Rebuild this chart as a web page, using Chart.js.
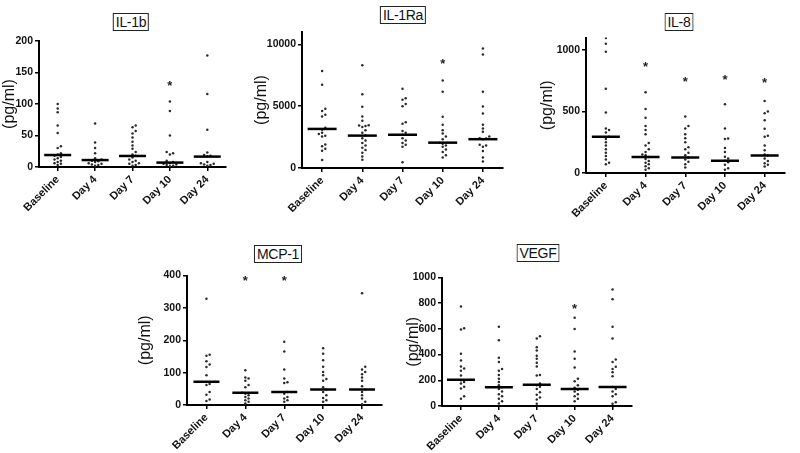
<!DOCTYPE html>
<html>
<head>
<meta charset="utf-8">
<script src="https://cdn.jsdelivr.net/npm/chart.js@4.4.1/dist/chart.umd.min.js"></script>
<style>
  html, body { margin: 0; padding: 0; background: #fff; }
  #wrap { position: relative; width: 800px; height: 453px; overflow: hidden; background: #fff; }
  canvas { position: absolute; }
  .ttl { position: absolute; transform: translate(-50%, -50%); border: 1px solid #222; background: #fff;
         font-family: "Liberation Sans", Arial, sans-serif; font-size: 14px; line-height: 16px;
         padding: 0 2px; color: #111; white-space: nowrap; letter-spacing: -0.3px; }
</style>
</head>
<body>
<div id="wrap"></div>
<script>
// ---------- categories ----------
const categories = ['Baseline', 'Day 4', 'Day 7', 'Day 10', 'Day 24'];

// ---------- IL-1b (pg/ml) ----------
const il1b_baseline = [100, 93, 87, 66, 54, 33, 30, 22, 20, 18, 16, 14, 12, 10, 8, 6, 5, 3];
const il1b_day4     = [69, 39, 30, 22, 14, 12, 10, 9, 8, 6, 5, 4, 3, 2];
const il1b_day7     = [66, 63, 57, 53, 47, 40, 34, 29, 24, 20, 18, 15, 12, 10, 8, 6, 5, 3, 2];
const il1b_day10    = [104, 89, 50, 24, 22, 20, 10, 8, 6, 5, 4, 3, 2, 1];
const il1b_day24    = [177, 116, 59, 23, 19, 18, 17, 8, 6, 5, 4, 3, 2];
const il1b_medians  = [19, 11, 17.5, 7, 16.5];
const il1b_stars    = [null, null, null, 135, null];
const il1b_ticks    = [0, 50, 100, 150, 200];

// ---------- IL-1Ra (pg/ml) ----------
const il1ra_baseline = [7850, 6730, 4790, 4610, 4300, 4170, 3250, 3100, 2850, 2750, 2600, 2550, 1900, 1750, 1550, 1400, 650];
const il1ra_day4     = [8310, 5960, 4950, 4170, 3830, 3450, 3430, 3400, 3320, 3060, 2850, 2620, 2410, 2230, 2020, 1810, 1630, 1450, 1240, 930, 670];
const il1ra_day7     = [6420, 5650, 5520, 5180, 5000, 3700, 3570, 3000, 2850, 2690, 2410, 2230, 2020, 1890, 1710, 470];
const il1ra_day10    = [7070, 6160, 4140, 3500, 3060, 2800, 2540, 2330, 2050, 1970, 1810, 1710, 1500, 1300, 1040, 850];
const il1ra_day24    = [9660, 9190, 6160, 4970, 4400, 3500, 3190, 2930, 2540, 2400, 2380, 2330, 1890, 1810, 1710, 1370, 850, 520];
const il1ra_medians  = [3160, 2620, 2690, 2050, 2330];
const il1ra_stars    = [null, null, null, 8700, null];
const il1ra_ticks    = [0, 5000, 10000];

// ---------- IL-8 (pg/ml) ----------
const il8_baseline = [1095, 1050, 985, 683, 491, 362, 349, 328, 294, 276, 249, 223, 192, 165, 139, 110, 84, 71];
const il8_day4     = [656, 520, 449, 381, 349, 315, 244, 223, 192, 171, 150, 144, 129, 113, 97, 84, 71, 55, 39, 26];
const il8_day7     = [459, 381, 362, 315, 283, 249, 210, 192, 165, 144, 126, 110, 92, 71, 45];
const il8_day10    = [559, 362, 281, 276, 202, 171, 131, 118, 100, 87, 66, 39, 26];
const il8_day24    = [585, 499, 486, 428, 360, 302, 294, 223, 184, 150, 142, 118, 97, 79, 66, 52];
const il8_medians  = [294, 129, 126, 100, 142];
const il8_stars    = [null, 892, 774, 785, 761];
const il8_ticks    = [0, 500, 1000];

// ---------- MCP-1 (pg/ml) ----------
const mcp1_baseline = [328, 155, 152, 135, 125, 117, 92, 65, 62, 40, 32, 17, 12];
const mcp1_day4     = [107, 85, 82, 75, 62, 55, 38, 35, 30, 25, 20, 15, 10, 5];
const mcp1_day7     = [195, 165, 110, 82, 70, 68, 40, 35, 25, 20, 15, 10];
const mcp1_day10    = [175, 158, 138, 118, 102, 92, 80, 75, 55, 48, 40, 30, 22, 15, 10];
const mcp1_day24    = [345, 118, 110, 102, 95, 85, 75, 58, 48, 40, 30, 20, 10, 2];
const mcp1_medians  = [72, 38, 40, 48, 48];
const mcp1_stars    = [null, 396, 396, null, null];
const mcp1_ticks    = [0, 100, 200, 300, 400];

// ---------- VEGF (pg/ml) ----------
const vegf_baseline = [775, 605, 595, 407, 355, 307, 292, 275, 237, 200, 187, 175, 150, 137, 75, 57];
const vegf_day4     = [617, 512, 375, 342, 287, 275, 242, 212, 187, 162, 145, 132, 112, 92, 75, 57, 37, 20];
const vegf_day7     = [542, 525, 457, 432, 392, 367, 337, 307, 242, 237, 175, 162, 150, 132, 107, 87, 67, 50, 17];
const vegf_day10    = [687, 600, 425, 367, 300, 212, 192, 162, 142, 127, 112, 92, 75, 57, 37];
const vegf_day24    = [907, 830, 617, 525, 362, 342, 305, 287, 262, 232, 147, 132, 112, 92, 75, 30, 17];
const vegf_medians  = [205, 145, 165, 132, 147];
const vegf_stars    = [null, null, null, 787, null];
const vegf_ticks    = [0, 200, 400, 600, 800, 1000];

const yTitle = '(pg/ml)';
const FONT = '"Liberation Sans", Arial, Helvetica, sans-serif';

// star (asterisk) text plugin
const starPlugin = {
  id: 'stars',
  afterDatasetsDraw(chart, args, opts) {
    const stars = opts.values || [];
    const ctx = chart.ctx;
    ctx.save();
    ctx.fillStyle = '#222';
    ctx.font = 'bold 13px ' + FONT;
    ctx.textAlign = 'center';
    ctx.textBaseline = 'alphabetic';
    stars.forEach((v, i) => {
      if (v == null) return;
      const x = chart.scales.x.getPixelForValue(i);
      const y = chart.scales.y.getPixelForValue(v);
      ctx.fillText('*', x, y + 8);
    });
    ctx.restore();
  }
};

function makePanel(p) {
  const wrap = document.getElementById('wrap');
  const padTop = 12, padRight = 4, xh = 62;
  const plotW = p.right - p.left, plotH = p.bottom - p.top;
  const cv = document.createElement('canvas');
  const W = p.yw + plotW + padRight, H = padTop + plotH + xh;
  cv.width = W; cv.height = H;
  cv.style.left = (p.left - p.yw) + 'px';
  cv.style.top = (p.top - padTop) + 'px';
  cv.style.width = W + 'px'; cv.style.height = H + 'px';
  wrap.appendChild(cv);

  const t = document.createElement('div');
  t.className = 'ttl';
  t.textContent = p.title;
  t.style.left = p.tx + 'px';
  t.style.top = p.ty + 'px';
  wrap.appendChild(t);

  const groups = p.groups;
  const initPts = [];
  groups.forEach((vals, i) => vals.forEach(v => initPts.push({ x: i, y: v })));

  const chart = new Chart(cv, {
    type: 'scatter',
    data: {
      datasets: [
        { data: initPts, pointRadius: 1.25, pointHoverRadius: 1.25, pointBackgroundColor: '#2a2a2a',
          pointBorderWidth: 0, order: 2 },
        { data: p.medians.map((m, i) => ({ x: i, y: m })), pointStyle: 'line', pointRadius: p.mr,
          pointHoverRadius: p.mr, pointBorderColor: '#000', pointBorderWidth: 2.5, order: 1 }
      ]
    },
    options: {
      responsive: false, animation: false,
      events: [],
      layout: { padding: { left: 0, top: padTop, right: padRight, bottom: 0 } },
      plugins: { legend: { display: false }, tooltip: { enabled: false }, stars: { values: p.stars } },
      scales: {
        x: {
          type: 'linear', min: -0.5, max: 4.5,
          afterBuildTicks: s => { s.ticks = categories.map((c, i) => ({ value: i })); },
          afterFit: s => { s.height = xh; },
          ticks: { callback: v => categories[v], minRotation: 45, maxRotation: 45, autoSkip: false,
                   font: { family: FONT, size: 11, weight: 'bold' }, color: '#111', padding: 2 },
          grid: { drawOnChartArea: false, drawTicks: true, tickLength: 4, color: '#000', lineWidth: 1.5 },
          border: { color: '#000', width: 2 }
        },
        y: {
          type: 'linear', min: 0, max: p.ymax,
          afterBuildTicks: s => { s.ticks = p.ticks.map(v => ({ value: v })); },
          afterFit: s => { s.width = p.yw; },
          ticks: { callback: v => String(v), font: { family: FONT, size: 10.5, weight: 'bold' }, color: '#111', padding: 2 },
          grid: { drawOnChartArea: false, drawTicks: true, tickLength: 4, color: '#000', lineWidth: 1.5 },
          border: { color: '#000', width: 2 },
          title: { display: true, text: yTitle, font: { family: FONT, size: 16 }, color: '#111',
                   padding: { top: 0, bottom: 0 } }
        }
      }
    },
    plugins: [starPlugin]
  });

  // spread dots with near-equal values sideways (beeswarm style), using the chart's own scales
  const xs = chart.scales.x, ys = chart.scales.y;
  const pxPerX = xs.getPixelForValue(1) - xs.getPixelForValue(0);
  const STEP = 3.2, MIN = 3;
  const pts = [];
  groups.forEach((vals, i) => {
    const placed = [];
    vals.slice().sort((a, b) => a - b).forEach(v => {
      const py = ys.getPixelForValue(v);
      let off = 0;
      for (let k = 0; k < 30; k++) {
        const cand = k === 0 ? 0 : (k % 2 ? 1 : -1) * Math.ceil(k / 2) * STEP;
        if (!placed.some(q => Math.abs(q.py - py) < MIN && Math.abs(q.off - cand) < MIN)) { off = cand; break; }
      }
      placed.push({ py, off });
      pts.push({ x: i + off / pxPerX, y: v });
    });
  });
  chart.data.datasets[0].data = pts;
  chart.update('none');
}

makePanel({ title: 'IL-1b', tx: 131, ty: 22, left: 39, right: 238, top: 37, bottom: 167, yw: 39, ymax: 200,
  ticks: il1b_ticks, mr: 13.5, medians: il1b_medians, stars: il1b_stars,
  groups: [il1b_baseline, il1b_day4, il1b_day7, il1b_day10, il1b_day24] });

makePanel({ title: 'IL-1Ra', tx: 403, ty: 15, left: 302, right: 516, top: 27, bottom: 168, yw: 50, ymax: 11000,
  ticks: il1ra_ticks, mr: 14.5, medians: il1ra_medians, stars: il1ra_stars,
  groups: [il1ra_baseline, il1ra_day4, il1ra_day7, il1ra_day10, il1ra_day24] });

makePanel({ title: 'IL-8', tx: 679, ty: 22, left: 586, right: 797, top: 33, bottom: 173, yw: 48, ymax: 1100,
  ticks: il8_ticks, mr: 14, medians: il8_medians, stars: il8_stars,
  groups: [il8_baseline, il8_day4, il8_day7, il8_day10, il8_day24] });

makePanel({ title: 'MCP-1', tx: 278, ty: 254, left: 187, right: 393, top: 272, bottom: 405, yw: 51, ymax: 400,
  ticks: mcp1_ticks, mr: 13, medians: mcp1_medians, stars: mcp1_stars,
  groups: [mcp1_baseline, mcp1_day4, mcp1_day7, mcp1_day10, mcp1_day24] });

makePanel({ title: 'VEGF', tx: 538, ty: 253, left: 442, right: 644, top: 273, bottom: 406, yw: 38, ymax: 1000,
  ticks: vegf_ticks, mr: 14, medians: vegf_medians, stars: vegf_stars,
  groups: [vegf_baseline, vegf_day4, vegf_day7, vegf_day10, vegf_day24] });
</script>
</body>
</html>
